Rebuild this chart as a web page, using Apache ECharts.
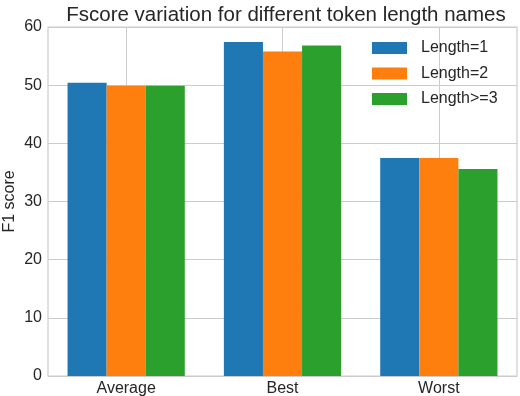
<!DOCTYPE html>
<html>
<head>
<meta charset="utf-8">
<script src="https://cdn.jsdelivr.net/npm/echarts@6/dist/echarts.min.js"></script>
<style>
  html, body { margin: 0; padding: 0; background: #fff; }
  #chart { width: 520px; height: 396px; }
</style>
</head>
<body>
<div id="chart"></div>
<script>
// data
const categories = ['Average', 'Best', 'Worst'];
const seriesNames = ['Length=1', 'Length=2', 'Length>=3'];
const length1 = [50.4, 57.4, 37.5];
const length2 = [49.9, 55.8, 37.5];
const length3 = [49.9, 56.8, 35.6];
const yTicks = [0, 10, 20, 30, 40, 50, 60];

const colors = ['#1f77b4', '#ff7f0e', '#2ca02c'];
const textColor = '#262626';
const gridColor = '#cccccc';
const font = 'Liberation Sans, Arial, sans-serif';

const chart = echarts.init(document.getElementById('chart'));

const barSeries = [length1, length2, length3].map((vals, i) => ({
    name: seriesNames[i],
    type: 'bar',
    data: vals,
    z: 3,
    barGap: '0%',
    barCategoryGap: '25%',
    itemStyle: { color: colors[i] }
}));

const option = {
    animation: false,
    textStyle: { fontFamily: font },
    title: {
        text: 'Fscore variation for different token length names',
        left: 281,
        textAlign: 'center',
        top: 0,
        textStyle: { fontSize: 20.5, fontWeight: 'normal', color: textColor, fontFamily: font }
    },
    legend: {
        orient: 'vertical',
        left: 372,
        top: 40,
        padding: 0,
        itemWidth: 35,
        itemHeight: 12,
        itemGap: 9.5,
        icon: 'rect',
        data: seriesNames,
        textStyle: { fontSize: 16, lineHeight: 16, color: textColor, fontFamily: font, padding: [0, 0, 0, 9] }
    },
    grid: {
        left: 48, right: 3, top: 27, bottom: 20,
        outerBoundsMode: 'none',
        containLabel: false,
        show: true,
        borderColor: gridColor,
        borderWidth: 1.2
    },
    xAxis: {
        type: 'category',
        data: categories,
        axisLine: { show: false },
        axisTick: { show: false },
        splitLine: { show: false },
        axisLabel: { fontSize: 16, color: textColor, margin: 5, fontFamily: font }
    },
    yAxis: {
        type: 'value',
        min: yTicks[0],
        max: yTicks[yTicks.length - 1],
        interval: 10,
        name: 'F1 score',
        nameLocation: 'middle',
        nameGap: 30,
        nameMoveOverlap: false,
        nameTextStyle: { fontSize: 16, color: textColor, fontFamily: font },
        axisLine: { show: false },
        axisTick: { show: false },
        axisLabel: { fontSize: 16, color: textColor, margin: 6, fontFamily: font },
        splitLine: { lineStyle: { color: gridColor, width: 1 } }
    },
    series: [
        // vertical gridlines at category centres, drawn under the bars
        {
            type: 'line',
            data: [],
            z: 1,
            silent: true,
            markLine: {
                silent: true,
                z: 1,
                symbol: 'none',
                label: { show: false },
                lineStyle: { color: gridColor, type: 'solid', width: 1 },
                data: categories.map(c => ({ xAxis: c }))
            }
        }
    ].concat(barSeries)
};

chart.setOption(option);
</script>
</body>
</html>
